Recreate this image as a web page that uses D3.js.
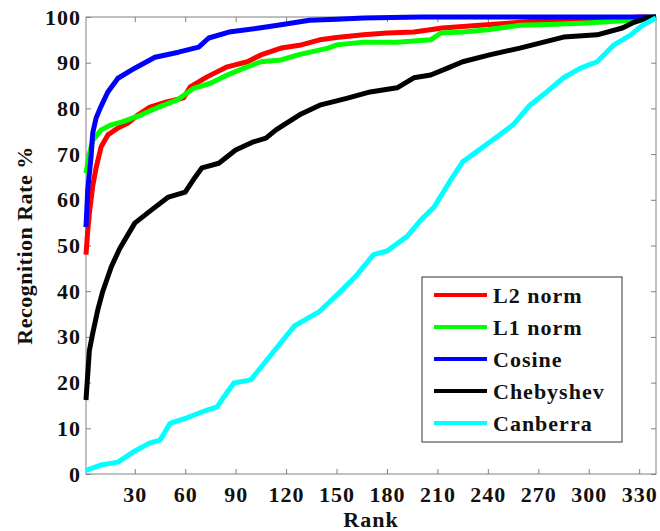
<!DOCTYPE html>
<html>
<head>
<meta charset="utf-8">
<script src="https://cdn.jsdelivr.net/npm/d3@7"></script>
<style>
  body { margin: 0; background: #fff; }
  text { font-family: "Liberation Serif", serif; font-weight: bold; fill: #111; }
</style>
</head>
<body>
<script>
// chart data
var xTicks = [30, 60, 90, 120, 150, 180, 210, 240, 270, 300, 330];
var yTicks = [0, 10, 20, 30, 40, 50, 60, 70, 80, 90, 100];
var seriesNames = ["L2 norm", "L1 norm", "Cosine", "Chebyshev", "Canberra"];
var seriesColors = ["#ff0000", "#00ff00", "#0000ff", "#000000", "#00ffff"];

var rankL2 = [1, 2, 3, 5, 7, 10, 14, 20, 26, 32, 39, 49, 59, 63, 73, 85, 97, 105, 117, 128, 140, 150, 166, 180, 196, 213, 235, 250, 265, 290, 310, 330, 340];
var valL2 = [48, 53, 57, 63, 67, 71.6, 74.2, 75.7, 76.8, 78.6, 80.3, 81.4, 82.3, 84.7, 86.9, 89.1, 90.2, 91.7, 93.2, 93.8, 95, 95.5, 96.1, 96.5, 96.7, 97.6, 98.2, 98.6, 99, 99.2, 99.5, 100, 100];

var rankL1 = [1, 3, 5, 10, 16, 22, 34, 45, 55, 65, 75, 85, 95, 105, 117, 127, 145, 150, 166, 186, 206, 212, 225, 240, 259, 280, 299, 325, 335, 340];
var valL1 = [65.8, 70, 73, 75.3, 76.4, 77, 78.6, 80.4, 81.8, 84.4, 85.5, 87.3, 88.8, 90.2, 90.6, 91.7, 93.2, 93.9, 94.5, 94.5, 95, 96.5, 96.7, 97.2, 98.2, 98.4, 98.7, 99.3, 100, 100];

var rankCos = [1, 2, 4, 5, 7, 10, 14, 20, 30, 42, 56, 68, 74, 86, 104, 115, 134, 150, 166, 200, 340];
var valCos = [54, 62, 69.4, 74.6, 77.9, 80.5, 83.6, 86.6, 88.8, 91.2, 92.3, 93.4, 95.4, 96.7, 97.6, 98.2, 99.3, 99.5, 99.8, 100, 100];

var rankCheb = [1, 3, 5, 8, 11, 16, 21, 30, 40, 50, 60, 66, 70, 80, 90, 100, 108, 114, 128, 140, 156, 170, 186, 196, 206, 216, 225, 241, 259, 285, 305, 320, 326, 335, 340];
var valCheb = [16.2, 27, 30.8, 35.9, 40, 45.3, 49.3, 54.9, 57.8, 60.6, 61.7, 65, 67, 68, 70.9, 72.6, 73.5, 75.3, 78.6, 80.7, 82.2, 83.6, 84.5, 86.7, 87.3, 88.8, 90.2, 91.7, 93.2, 95.6, 96.1, 97.6, 98.7, 99.8, 100];

var rankCan = [1, 2, 10, 20, 29, 39, 45, 51, 61, 73, 79, 83, 89, 99, 110, 125, 140, 152, 162, 172, 180, 192, 200, 208, 217, 225, 241, 255, 265, 275, 285, 295, 305, 315, 325, 332, 340];
var valCan = [0.8, 0.9, 2, 2.6, 4.8, 6.8, 7.4, 11.1, 12.3, 14, 14.7, 16.9, 19.9, 20.6, 25.6, 32.4, 35.6, 39.8, 43.5, 48, 48.8, 52, 55.5, 58.4, 63.8, 68.3, 72.6, 76.4, 80.7, 83.6, 86.7, 88.8, 90.2, 93.9, 96.1, 98.2, 99.8];

var ranks = [rankL2, rankL1, rankCos, rankCheb, rankCan];
var vals = [valL2, valL1, valCos, valCheb, valCan];

var w = 660, h = 531;
var mLeft = 86, mRight = 656, mTop = 17, mBottom = 474;

var svg = d3.select("body").append("svg")
    .attr("width", w)
    .attr("height", h);

var x = d3.scaleLinear().domain([1, 340]).range([mLeft, mRight]);
var y = d3.scaleLinear().domain([0, 100]).range([mBottom, mTop]);

// axes, MATLAB style: ticks pointing inwards, box around
var axisColor = "#808080";

var gx = svg.append("g")
    .attr("transform", "translate(0," + mBottom + ")")
    .call(d3.axisBottom(x).tickValues(xTicks).tickSizeInner(-5).tickSizeOuter(0).tickPadding(12));
var gxTop = svg.append("g")
    .attr("transform", "translate(0," + mTop + ")")
    .call(d3.axisTop(x).tickValues(xTicks).tickSizeInner(-5).tickSizeOuter(0).tickFormat(""));
var gy = svg.append("g")
    .attr("transform", "translate(" + mLeft + ",0)")
    .call(d3.axisLeft(y).tickValues(yTicks).tickSizeInner(-5).tickSizeOuter(0).tickPadding(5));
var gyRight = svg.append("g")
    .attr("transform", "translate(" + mRight + ",0)")
    .call(d3.axisRight(y).tickValues(yTicks).tickSizeInner(-5).tickSizeOuter(0).tickFormat(""));

[gx, gxTop, gy, gyRight].forEach(function(g) {
  g.select(".domain").remove();
  g.selectAll("line").attr("stroke", axisColor);
  g.selectAll("text")
    .attr("font-family", "Liberation Serif, serif")
    .attr("font-weight", "bold")
    .attr("font-size", 22)
    .attr("letter-spacing", 1)
    .attr("fill", "#111");
});

svg.append("rect")
    .attr("x", mLeft).attr("y", mTop)
    .attr("width", mRight - mLeft).attr("height", mBottom - mTop)
    .attr("fill", "none")
    .attr("stroke", axisColor)
    .attr("stroke-width", 1);

// curves
var line = d3.line()
    .x(function(d) { return x(d[0]); })
    .y(function(d) { return y(d[1]); });

for (var i = 0; i < seriesNames.length; i++) {
  var pts = ranks[i].map(function(r, j) { return [r, vals[i][j]]; });
  svg.append("path")
      .datum(pts)
      .attr("d", line)
      .attr("fill", "none")
      .attr("stroke", seriesColors[i])
      .attr("stroke-width", 5)
      .attr("stroke-linejoin", "round");
}

// axis labels
svg.append("text")
    .attr("x", (mLeft + mRight) / 2)
    .attr("y", 527)
    .attr("text-anchor", "middle")
    .attr("font-size", 22)
    .attr("letter-spacing", 1)
    .text("Rank");

svg.append("text")
    .attr("transform", "translate(32," + (mTop + mBottom) / 2 + ") rotate(-90)")
    .attr("text-anchor", "middle")
    .attr("font-size", 22)
    .attr("letter-spacing", 0.5)
    .text("Recognition Rate %");

// legend
var lg = svg.append("g").attr("transform", "translate(422,277)");
lg.append("rect")
    .attr("width", 200).attr("height", 165)
    .attr("fill", "#fff")
    .attr("stroke", "#333")
    .attr("stroke-width", 1);

var rows = lg.selectAll("g.row")
    .data(seriesNames)
    .enter().append("g")
    .attr("class", "row")
    .attr("transform", function(d, i) { return "translate(0," + (18 + i * 32) + ")"; });

rows.append("line")
    .attr("x1", 12).attr("x2", 65)
    .attr("stroke", function(d, i) { return seriesColors[i]; })
    .attr("stroke-width", 4);

rows.append("text")
    .attr("x", 71)
    .attr("dy", "0.35em")
    .attr("font-size", 22)
    .attr("letter-spacing", 1)
    .text(function(d) { return d; });
</script>
</body>
</html>
